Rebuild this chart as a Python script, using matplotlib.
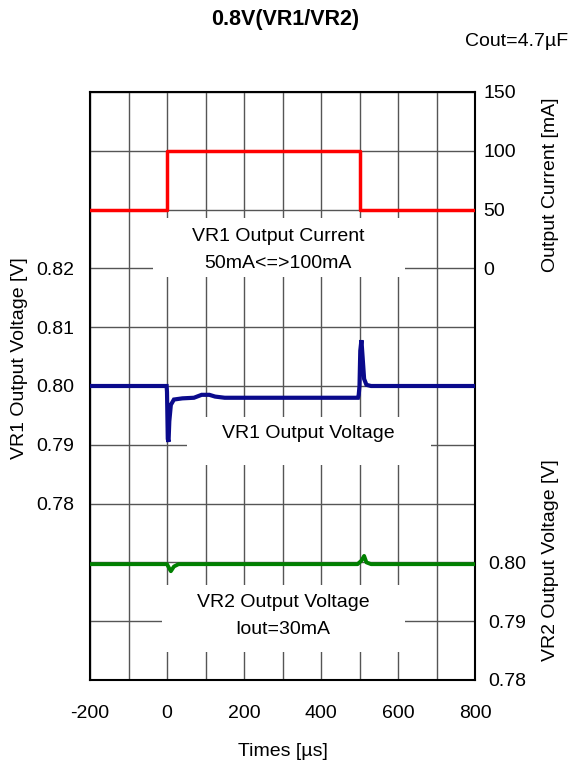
import matplotlib
matplotlib.use("Agg")
import matplotlib.pyplot as plt
from matplotlib.patches import Rectangle
import numpy as np

plt.rcParams['font.family'] = ['Liberation Sans', 'DejaVu Sans']

# output current (mA)
t_cur = [-200, 0, 0, 500, 500, 800]
i_cur = [50, 50, 100, 100, 50, 50]

# VR1 output voltage (V)
t_vr1 = [-200, -1, 0, 2, 4, 6, 10, 18, 40, 70, 90, 110, 125, 150, 300, 496, 498, 500, 502, 505, 508, 512, 518, 530, 560, 800]
v_vr1 = [0.8000, 0.8000, 0.7990, 0.7910, 0.7905, 0.7940, 0.7968, 0.7977, 0.7979, 0.7980, 0.7985, 0.7985, 0.7982, 0.7980, 0.7980, 0.7980, 0.7985, 0.8000, 0.8060, 0.8078, 0.8050, 0.8012, 0.8002, 0.8000, 0.8000, 0.8000]

# VR2 output voltage (V)
t_vr2 = [-200, 0, 4, 10, 18, 30, 300, 495, 505, 512, 518, 530, 800]
v_vr2 = [0.7997, 0.7997, 0.7992, 0.7985, 0.7993, 0.7997, 0.7997, 0.7997, 0.8003, 0.8011, 0.8000, 0.7997, 0.7997]

fig = plt.figure(figsize=(5.71, 7.65), dpi=100)
ax = fig.add_axes([90/571, 1-680/765, 385/571, 588/765])

fs = 14

# left axis: VR1
ax.set_xlim(-200, 800)
ax.set_ylim(0.75, 0.85)
ax.set_xticks(np.arange(-200, 801, 100))
ax.set_xticklabels([str(x) if x % 200 == 0 else '' for x in range(-200, 801, 100)], fontsize=fs)
yt = np.round(np.arange(0.75, 0.8501, 0.01), 2)
ax.set_yticks(yt)
ax.set_yticklabels(['%.2f' % y if 0.775 < y < 0.825 else '' for y in yt], fontsize=fs)
ax.tick_params(axis='both', length=0)
ax.tick_params(axis='y', pad=11.5)
ax.tick_params(axis='x', pad=18)
ax.grid(True, color='#555555', lw=1.0)
ax.set_axisbelow(True)
for s in ax.spines.values():
    s.set_linewidth(1.5)
ax.set_xlabel('Times [µs]', fontsize=fs, labelpad=15)
ax.set_ylabel('VR1 Output Voltage [V]', fontsize=fs)
ax.yaxis.set_label_coords(-0.162, 0.548)

# white boxes behind the labels
for (x0, y0, w, h) in [(0.164, 0.685, 0.654, 0.101),
                       (0.252, 0.366, 0.634, 0.081),
                       (0.187, 0.048, 0.631, 0.114)]:
    ax.add_patch(Rectangle((x0, y0), w, h, transform=ax.transAxes,
                           facecolor='white', edgecolor='none', zorder=1))

ax.plot(t_vr1, v_vr1, color='#0a0a8c', lw=3.0, zorder=3, solid_joinstyle='miter')

# right axis: current
ax_i = ax.twinx()
ax_i.set_ylim(-350, 150)
ax_i.set_yticks([0, 50, 100, 150])
ax_i.tick_params(axis='y', length=0, pad=5.8, labelsize=fs)
ax_i.plot(t_cur, i_cur, color='#ff0000', lw=2.5, zorder=3)
ax_i.set_ylabel('Output Current [mA]', fontsize=fs)
ax_i.yaxis.set_label_coords(1.174, 0.843)

# right axis: VR2
ax_v = ax.twinx()
ax_v.set_ylim(0.78, 0.88)
ax_v.set_yticks([0.78, 0.79, 0.80])
ax_v.set_yticklabels(['0.78', '0.79', '0.80'])
ax_v.tick_params(axis='y', length=0, pad=9.4, labelsize=fs)
ax_v.plot(t_vr2, v_vr2, color='#008000', lw=2.8, zorder=3)
ax_v.set_ylabel('VR2 Output Voltage [V]', fontsize=fs)
ax_v.yaxis.set_label_coords(1.174, 0.204)
for a in (ax_i, ax_v):
    for s in a.spines.values():
        s.set_visible(False)

ax.text(0.489, 0.731, 'VR1 Output Current\n50mA<=>100mA', transform=ax.transAxes,
        ha='center', va='center', fontsize=fs, linespacing=1.75, zorder=4)
ax.text(0.568, 0.420, 'VR1 Output Voltage', transform=ax.transAxes,
        ha='center', va='center', fontsize=fs, zorder=4)
ax.text(0.501, 0.109, 'VR2 Output Voltage\nIout=30mA', transform=ax.transAxes,
        ha='center', va='center', fontsize=fs, linespacing=1.75, zorder=4)

fig.text(285/571, 1-20/765, '0.8V(VR1/VR2)', ha='center', va='center',
         fontsize=15.5, fontweight='bold')
fig.text(568/571, 1-42/765, 'Cout=4.7µF', ha='right', va='center', fontsize=fs)

fig.savefig('out.png', dpi=100)
